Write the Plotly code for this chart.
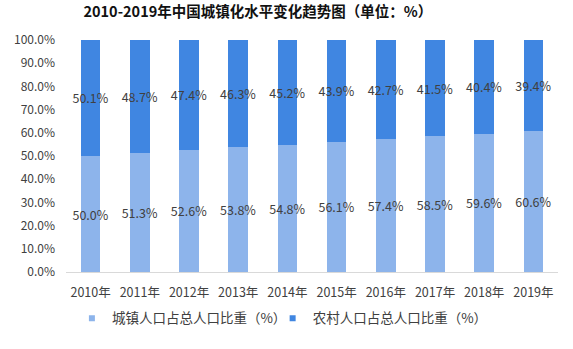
import plotly.graph_objects as go

years = ["2010年", "2011年", "2012年", "2013年", "2014年", "2015年", "2016年", "2017年", "2018年", "2019年"]
urban_share = [50.0, 51.3, 52.6, 53.8, 54.8, 56.1, 57.4, 58.5, 59.6, 60.6]
rural_share = [50.1, 48.7, 47.4, 46.3, 45.2, 43.9, 42.7, 41.5, 40.4, 39.4]
y_ticks = [0, 10, 20, 30, 40, 50, 60, 70, 80, 90, 100]

font_family = "Noto Sans CJK SC, Noto Sans, sans-serif"
label_color = "#404040"
urban_color = "#8DB4EB"
rural_color = "#4086E1"
urban_name = "城镇人口占总人口比重（%）"
rural_name = "农村人口占总人口比重（%）"

fig = go.Figure()
for vals, color in ((urban_share, urban_color), (rural_share, rural_color)):
    fig.add_trace(go.Bar(
        x=years, y=vals, showlegend=False,
        marker=dict(color=color, line=dict(width=0)),
        text=[f"{v:.1f}%" for v in vals], textposition="inside",
        insidetextanchor="middle", textangle=0,
        textfont=dict(color=label_color, size=12.5, family=font_family),
    ))

# small square legend keys, one legend box each
for name, color, leg in ((urban_name, urban_color, "legend"), (rural_name, rural_color, "legend2")):
    fig.add_trace(go.Scatter(
        x=[None], y=[None], mode="markers", name=name, legend=leg,
        marker=dict(symbol="square", size=6, color=color),
    ))

legend_style = dict(orientation="h", xanchor="left", y=-0.133, yanchor="top",
                    font=dict(size=13.5, color=label_color), itemwidth=30,
                    bgcolor="rgba(0,0,0,0)")

fig.update_layout(
    width=573, height=349,
    barmode="stack", bargap=0.6,
    uniformtext=dict(minsize=12, mode="show"),
    paper_bgcolor="white", plot_bgcolor="white",
    margin=dict(l=66, r=15, t=40, b=77),
    font=dict(family=font_family, color=label_color, size=12),
    title=dict(text="<b>2010-2019年中国城镇化水平变化趋势图（单位：%）</b>",
               x=0.45, xanchor="center", y=0.965, yanchor="middle",
               font=dict(size=14.5, color="#111111", family=font_family)),
    xaxis=dict(showline=True, linecolor="#D9D9D9", linewidth=1, ticks="",
               ticklabelstandoff=9,
               tickfont=dict(size=12.5, color=label_color)),
    yaxis=dict(range=[0, 100], tickvals=y_ticks,
               ticktext=[f"{v:.1f}%" for v in y_ticks],
               showgrid=False, zeroline=False, showline=False,
               ticklabelstandoff=10,
               tickfont=dict(size=12, color=label_color)),
    legend=dict(x=0.012, **legend_style),
    legend2=dict(x=0.42, **legend_style),
)

fig.write_html("out.html")
